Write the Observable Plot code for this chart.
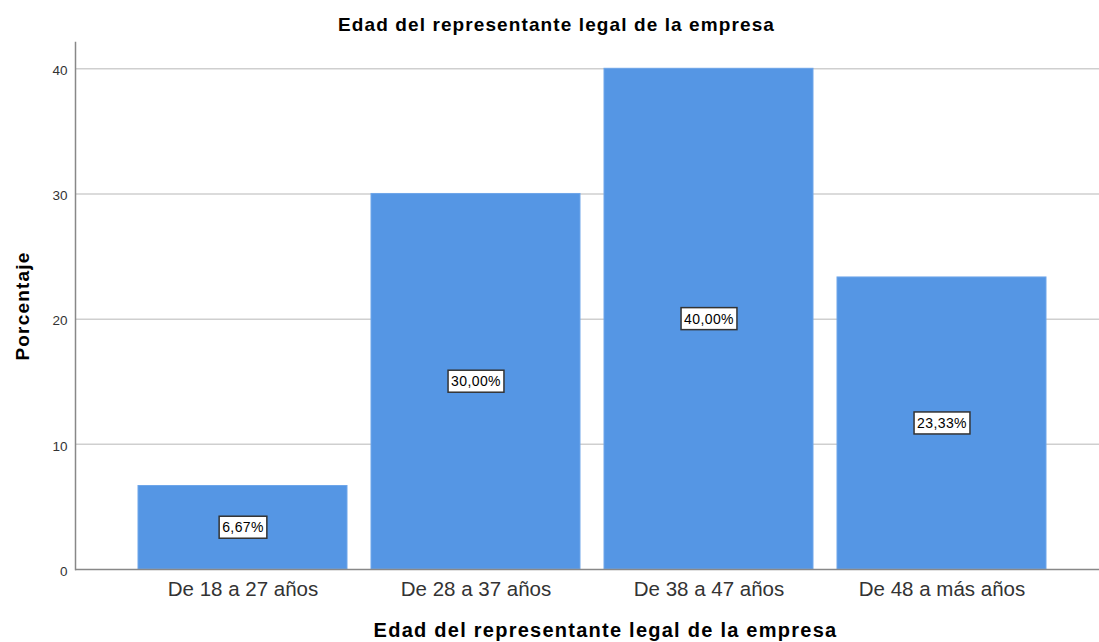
<!DOCTYPE html>
<html>
<head>
<meta charset="utf-8">
<script src="https://cdn.jsdelivr.net/npm/d3@7"></script>
<script src="https://cdn.jsdelivr.net/npm/@observablehq/plot@0.6"></script>
<style>
  html, body { margin: 0; padding: 0; background: #fff; overflow: hidden; }
  #chart { width: 1099px; height: 642px; }
  text { font-family: Arial, "Liberation Sans", sans-serif; }
  .title-text text { letter-spacing: 1.1px; }
  .xlabel-text text { letter-spacing: 1.25px; }
  .ylabel-text text { letter-spacing: 1.2px; }
  .bar-label text { letter-spacing: 0.4px; }
</style>
</head>
<body>
<div id="chart"></div>
<script>
const title = "Edad del representante legal de la empresa";
const yLabel = "Porcentaje";
const xLabel = "Edad del representante legal de la empresa";
const categories = ["De 18 a 27 años", "De 28 a 37 años", "De 38 a 47 años", "De 48 a más años"];
const percentages = [6.67, 30.00, 40.00, 23.33];
const yTicks = [0, 10, 20, 30, 40];

const data = categories.map((c, i) => ({cat: c, pct: percentages[i]}));
const fmt = v => v.toFixed(2).replace(".", ",") + "%";
const font = "Arial, 'Liberation Sans', sans-serif";

const chart = Plot.plot({
  width: 1099,
  height: 642,
  marginTop: 42,
  marginBottom: 73,
  marginLeft: 75,
  marginRight: 0,
  style: {fontFamily: font, background: "#fff", overflow: "visible"},
  x: {domain: categories, range: [75, 1109], paddingInner: 0.103, paddingOuter: 0.27, label: null},
  y: {domain: [0, 42.1], label: null},
  marks: [
    Plot.gridY(yTicks.filter(t => t > 0), {stroke: "#cfcfcf", strokeOpacity: 1, strokeWidth: 1.5}),
    Plot.barY(data, {x: "cat", y: "pct", fill: "#5596e4", stroke: "#6ea6ea", strokeWidth: 1}),
    Plot.axisY({ticks: yTicks, tickSize: 0, tickPadding: 8, dy: 2, fontSize: 13.5, fill: "#333", label: null}),
    Plot.axisX({tickSize: 0, tickPadding: 12, fontSize: 20.5, fill: "#333", label: null}),
    Plot.ruleY([0], {stroke: "#888", strokeWidth: 1.5}),
    Plot.frame({anchor: "left", stroke: "#888", strokeWidth: 1.5}),
    Plot.text(data, {x: "cat", y: d => d.pct / 2, text: d => fmt(d.pct), fontSize: 14, fill: "#000", className: "bar-label"}),
    Plot.text([title], {frameAnchor: "top", textAnchor: "middle", lineAnchor: "middle", dx: -31, dy: -18, fontSize: 19, fontWeight: "bold", fill: "#000", className: "title-text"}),
    Plot.text([xLabel], {frameAnchor: "bottom", textAnchor: "middle", lineAnchor: "middle", dx: 18, dy: 61, fontSize: 20, fontWeight: "bold", fill: "#000", className: "xlabel-text"}),
    Plot.text([yLabel], {frameAnchor: "left", textAnchor: "middle", lineAnchor: "middle", dx: -53, rotate: -90, fontSize: 19, fontWeight: "bold", fill: "#000", className: "ylabel-text"})
  ]
});

document.getElementById("chart").appendChild(chart);

// Draw boxes behind the bar value labels, sized from each label's rendered text
document.querySelectorAll("g.bar-label text").forEach(t => {
  const b = t.getBBox();
  const r = document.createElementNS("http://www.w3.org/2000/svg", "rect");
  r.setAttribute("x", b.x - 3);
  r.setAttribute("y", b.y - 3);
  r.setAttribute("width", b.width + 6);
  r.setAttribute("height", b.height + 6);
  r.setAttribute("fill", "#fff");
  r.setAttribute("stroke", "#333");
  r.setAttribute("stroke-width", 1.5);
  const tr = t.getAttribute("transform");
  if (tr) r.setAttribute("transform", tr);
  t.parentNode.insertBefore(r, t);
});
</script>
</body>
</html>
